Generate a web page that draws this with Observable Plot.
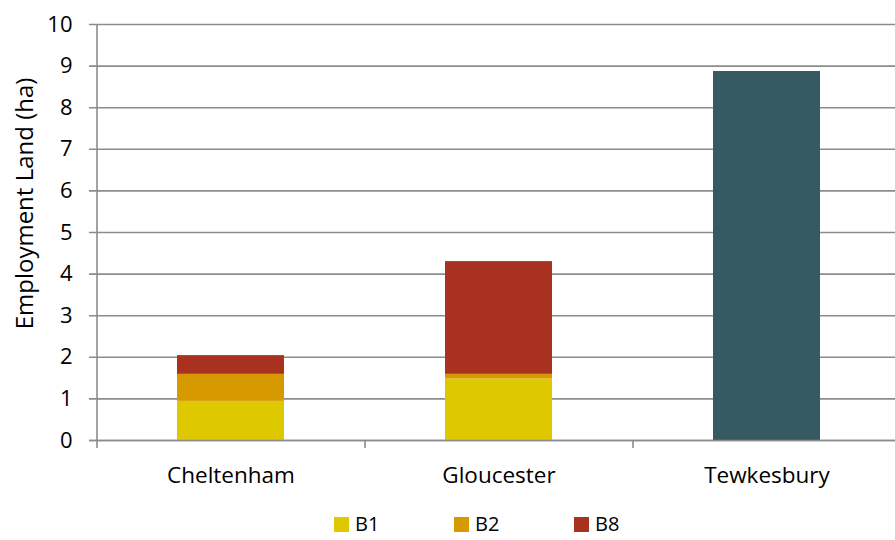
<!DOCTYPE html>
<html>
<head>
<meta charset="utf-8">
<script src="https://cdn.jsdelivr.net/npm/d3@7"></script>
<script src="https://cdn.jsdelivr.net/npm/@observablehq/plot@0.6"></script>
<style>
  body { margin: 0; background: #fff; font-family: "Open Sans", sans-serif; overflow: hidden; }
  #wrap { position: relative; width: 895px; height: 540px; }
  .item { position: absolute; top: 514px; width: 100px; height: 20px; display: flex; align-items: center; font-size: 20px; line-height: 20px; color: #000; white-space: nowrap; }
  .sw { width: 15px; height: 15px; margin-right: 6px; flex: none; }
</style>
</head>
<body>
<div id="wrap"><div id="chart"></div></div>
<script>
const areas = ["Cheltenham", "Gloucester", "Tewkesbury"];
const series = ["B1", "B2", "B8", "Unspecified"];
const legendSeries = ["B1", "B2", "B8"];
const colors = ["#DEC800", "#D69A00", "#A8311F", "#355A62"];
const b1 = [0.94, 1.48, 0];
const b2 = [0.65, 0.11, 0];
const b8 = [0.45, 2.71, 0];
const unspecified = [0, 0, 8.87];
const yTicks = [0, 1, 2, 3, 4, 5, 6, 7, 8, 9, 10];

const values = {B1: b1, B2: b2, B8: b8, Unspecified: unspecified};
const rows = [];
areas.forEach((a, i) => series.forEach(s => { if (values[s][i] > 0) rows.push({area: a, type: s, value: values[s][i]}); }));

const width = 895, marginLeft = 97;
const xRange = [97, 901];
const step = (xRange[1] - xRange[0]) / areas.length;
const gridColor = "#8c8c8c";

const plot = Plot.plot({
  width, height: 495,
  marginLeft, marginRight: 0, marginTop: 24, marginBottom: 55,
  style: {fontFamily: "Open Sans, sans-serif", fontSize: "22px", color: "#000", background: "#fff", overflow: "visible"},
  x: {domain: areas, range: xRange, paddingInner: 0.6, paddingOuter: 0.3, label: null},
  y: {domain: [0, 10], label: null},
  color: {domain: series, range: colors},
  marks: [
    Plot.ruleY(yTicks, {stroke: gridColor, strokeWidth: 1.6, insetLeft: -8}),
    Plot.ruleX([areas[0]], {x: d => d, dx: -step / 2, stroke: gridColor, strokeWidth: 1.6, insetBottom: -8}),
    Plot.ruleX(areas.slice(0, 2), {x: d => d, dx: step / 2, y1: 0, y2: 0, stroke: gridColor, strokeWidth: 1.6, insetBottom: -8}),
    Plot.barY(rows, {x: "area", y: "value", fill: "type"}),
    Plot.ruleY([0], {stroke: gridColor, strokeWidth: 1.6, insetLeft: -8}),
    Plot.axisY({ticks: yTicks, tickSize: 0, tickPadding: 25, fontSize: 22, label: null}),
    Plot.axisX({tickSize: 0, tickPadding: 27, fontSize: 22.5, label: null}),
    Plot.text(["Employment Land (ha)"], {frameAnchor: "left", textAnchor: "middle", dx: -72, dy: -29, rotate: -90, fontSize: 24, text: d => d})
  ]
});
document.getElementById("chart").appendChild(plot);

const wrap = document.getElementById("wrap");
legendSeries.forEach((s, i) => {
  const it = document.createElement("div");
  it.className = "item";
  it.style.left = (334 + 120 * i) + "px";
  const sw = document.createElement("span");
  sw.className = "sw";
  sw.style.background = colors[series.indexOf(s)];
  it.appendChild(sw);
  const tx = document.createElement("span");
  tx.textContent = s;
  it.appendChild(tx);
  wrap.appendChild(it);
});
</script>
</body>
</html>
